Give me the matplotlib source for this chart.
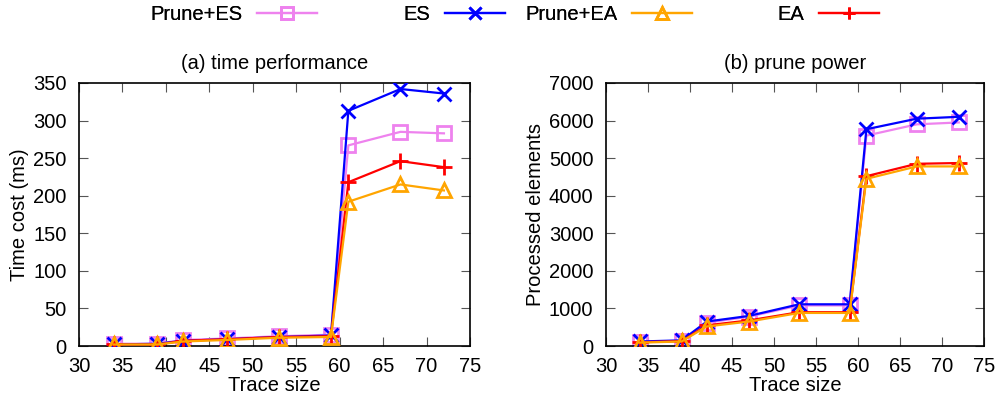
import numpy as np
import matplotlib.pyplot as plt
from matplotlib.lines import Line2D

plt.rcParams['font.family'] = ['Liberation Sans', 'DejaVu Sans']
plt.rcParams['font.size'] = 14.5

trace_size = [34, 39, 42, 47, 53, 59, 61, 67, 72]

# (a) time cost in ms
time_prune_es = [3, 3, 8, 10, 13, 15, 267, 285, 283]
time_es = [2, 3, 7, 9, 12, 14, 313, 342, 336]
time_prune_ea = [2, 2, 6, 8, 11, 12, 192, 215, 207]
time_ea = [2, 2, 7, 9, 12, 13, 218, 246, 238]

# (b) processed elements
proc_prune_es = [110, 140, 620, 780, 1080, 1080, 5600, 5900, 5950]
proc_es = [120, 150, 650, 800, 1110, 1110, 5770, 6050, 6100]
proc_prune_ea = [90, 120, 520, 650, 880, 880, 4450, 4780, 4780]
proc_ea = [100, 130, 550, 680, 900, 900, 4520, 4850, 4870]

labels = ['Prune+ES', 'ES', 'Prune+EA', 'EA']
colors = ['#ee82ee', '#0000ff', '#ffa500', '#ff0000']
markers = ['s', 'x', '^', '+']
msizes = [10, 10, 10, 11]
zorders = [2, 3, 5, 4]

fig = plt.figure(figsize=(10.08, 4.01), dpi=100)
ax1 = fig.add_axes([79/1008, 55/401, (470-79)/1008, (346-83)/401])
ax2 = fig.add_axes([606/1008, 55/401, (984-606)/1008, (346-83)/401])


def style(ax, ymax, ystep, title, ylabel):
    ax.set_xlim(30, 75)
    ax.set_xticks(np.arange(30, 76, 5))
    ax.set_ylim(0, ymax)
    ax.set_yticks(np.arange(0, ymax + 1, ystep))
    ax.tick_params(direction='in', top=True, right=True, length=6.5, width=0.8,
                   color='#555555')
    ax.tick_params(axis='y', pad=9)
    ax.tick_params(axis='x', pad=8)
    for s in ax.spines.values():
        s.set_linewidth(1.2)
    ax.set_title(title, fontsize=14.5, pad=10)
    ax.set_xlabel('Trace size', labelpad=0)
    ax.set_ylabel(ylabel, labelpad=3)


def draw(ax, series):
    for ys, lab, c, m, ms, z in zip(series, labels, colors, markers, msizes, zorders):
        ax.plot(trace_size, ys, color=c, marker=m, markersize=ms, zorder=z,
                markerfacecolor='none', markeredgewidth=2, linewidth=1.6, label=lab)


draw(ax1, [time_prune_es, time_es, time_prune_ea, time_ea])
draw(ax2, [proc_prune_es, proc_es, proc_prune_ea, proc_ea])
style(ax1, 350, 50, '(a) time performance', 'Time cost (ms)')
style(ax2, 7000, 1000, '(b) prune power', 'Processed elements')

# gnuplot-like legend: right-aligned text followed by sample
anchors = [317, 505, 692, 879]
for lab, c, m, xa in zip(labels, colors, markers, anchors):
    h = Line2D([], [], color=c, marker=m, markersize=9, markerfacecolor='none',
               markeredgewidth=2, linewidth=1.6)
    leg = fig.legend([h], [lab], loc='center right', bbox_to_anchor=(xa/1008, 1 - 15/401),
                     markerfirst=False, frameon=False, handlelength=3.0,
                     handletextpad=0.7, borderaxespad=0, borderpad=0, fontsize=14.5)
    fig.add_artist(leg)

fig.savefig('out.png', dpi=100)
